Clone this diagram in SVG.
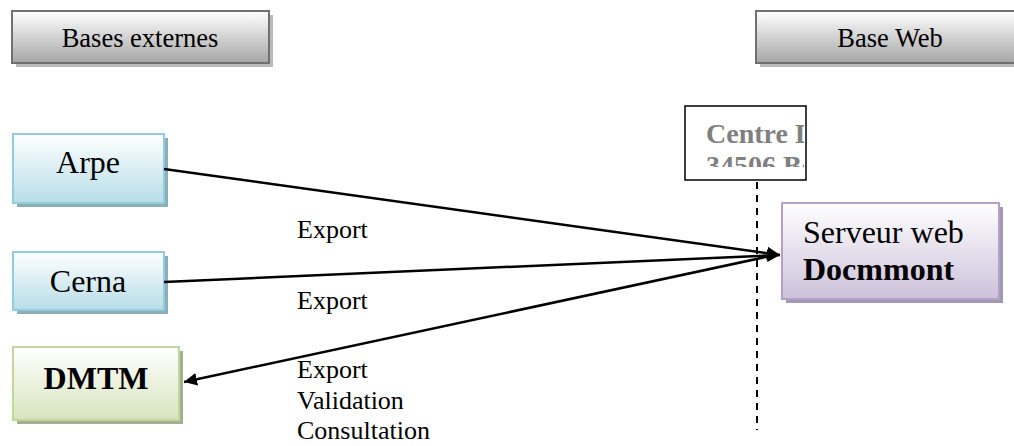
<svg xmlns="http://www.w3.org/2000/svg" width="1014" height="446" viewBox="0 0 1014 446">
<defs>
<linearGradient id="gGray" x1="0" y1="0" x2="0" y2="1"><stop offset="0" stop-color="#ffffff"/><stop offset="1" stop-color="#a6a6a6"/></linearGradient>
<linearGradient id="gBlue" x1="0" y1="0" x2="0" y2="1"><stop offset="0" stop-color="#ffffff"/><stop offset="1" stop-color="#b6dde8"/></linearGradient>
<linearGradient id="gGreen" x1="0" y1="0" x2="0" y2="1"><stop offset="0" stop-color="#ffffff"/><stop offset="1" stop-color="#d7e4bd"/></linearGradient>
<linearGradient id="gPurple" x1="0" y1="0" x2="0" y2="1"><stop offset="0" stop-color="#ffffff"/><stop offset="1" stop-color="#ccc1da"/></linearGradient>
<marker id="arr" viewBox="0 0 10 10" refX="10" refY="5" markerWidth="13" markerHeight="13" markerUnits="userSpaceOnUse" orient="auto"><path d="M0,0 L10,5 L0,10 z" fill="#000"/></marker>
<clipPath id="cCentre"><rect x="686" y="107" width="118" height="60"/></clipPath>
</defs>
<style>
text{font-family:"Liberation Serif","Times New Roman",serif;fill:#000}
.hdr{font-size:26.5px}
.node{font-size:32px}
.lbl{font-size:26px}
.b{font-weight:bold}
.shadow{fill:#8c8c8c;opacity:0.6}
.conn{stroke:#000;stroke-width:2.5;fill:none}
</style>
<rect width="1014" height="446" fill="#fff"/>
<g id="hdr-bases">
<rect class="shadow" x="16" y="15" width="257" height="52"/>
<rect x="12" y="11" width="257" height="52" fill="url(#gGray)" stroke="#707070" stroke-width="2"/>
<text class="hdr" x="140" y="47" text-anchor="middle">Bases externes</text>
</g>
<g id="hdr-web">
<rect class="shadow" x="760" y="15" width="270" height="52"/>
<rect x="756" y="11" width="270" height="52" fill="url(#gGray)" stroke="#707070" stroke-width="2"/>
<text class="hdr" x="890" y="47" text-anchor="middle">Base Web</text>
</g>
<g id="centre">
<rect x="685" y="106" width="121" height="74" fill="#fff" stroke="#000" stroke-width="1.5"/>
<g clip-path="url(#cCentre)">
<text x="706" y="143" font-size="28" font-weight="bold" style="fill:#808080">Centre D</text>
<text x="706" y="175" font-size="28" font-weight="bold" style="fill:#808080">34506 Bé</text>
</g>
</g>
<g id="arpe">
<rect x="17" y="138" width="151" height="69" fill="#6f9aa6" opacity="0.8"/>
<rect x="13" y="134" width="151" height="69" fill="url(#gBlue)" stroke="#93cddd" stroke-width="2"/>
<text class="node" x="88" y="173" text-anchor="middle">Arpe</text>
</g>
<g id="cerna">
<rect x="17" y="256" width="151" height="58" fill="#6f9aa6" opacity="0.8"/>
<rect x="13" y="252" width="151" height="58" fill="url(#gBlue)" stroke="#93cddd" stroke-width="2"/>
<text class="node" x="88" y="292" text-anchor="middle">Cerna</text>
</g>
<g id="dmtm">
<rect x="17" y="351" width="166" height="73" fill="#8f9a73" opacity="0.8"/>
<rect x="13" y="347" width="166" height="73" fill="url(#gGreen)" stroke="#c3d69b" stroke-width="2"/>
<text class="node b" x="96" y="389" text-anchor="middle">DMTM</text>
</g>
<g id="serveur">
<rect x="786" y="207" width="217" height="96" fill="#8a7fa0" opacity="0.8"/>
<rect x="782" y="203" width="217" height="96" fill="url(#gPurple)" stroke="#b3a2c7" stroke-width="2"/>
<text class="node" x="803" y="243">Serveur web</text>
<text class="node b" x="803" y="280">Docmmont</text>
</g>
<g id="connectors">
<line x1="757" y1="182" x2="757" y2="430" stroke="#000" stroke-width="2" stroke-dasharray="7,6"/>
<line class="conn" x1="164" y1="169" x2="780" y2="255" marker-end="url(#arr)"/>
<line class="conn" x1="164" y1="282" x2="780" y2="255" marker-end="url(#arr)"/>
<line class="conn" x1="775" y1="255" x2="184" y2="382" marker-end="url(#arr)"/>
<text class="lbl" x="297" y="238">Export</text>
<text class="lbl" x="297" y="309">Export</text>
<text class="lbl" x="297" y="378">Export</text>
<text class="lbl" x="297" y="409">Validation</text>
<text class="lbl" x="297" y="439">Consultation</text>
</g>
</svg>
